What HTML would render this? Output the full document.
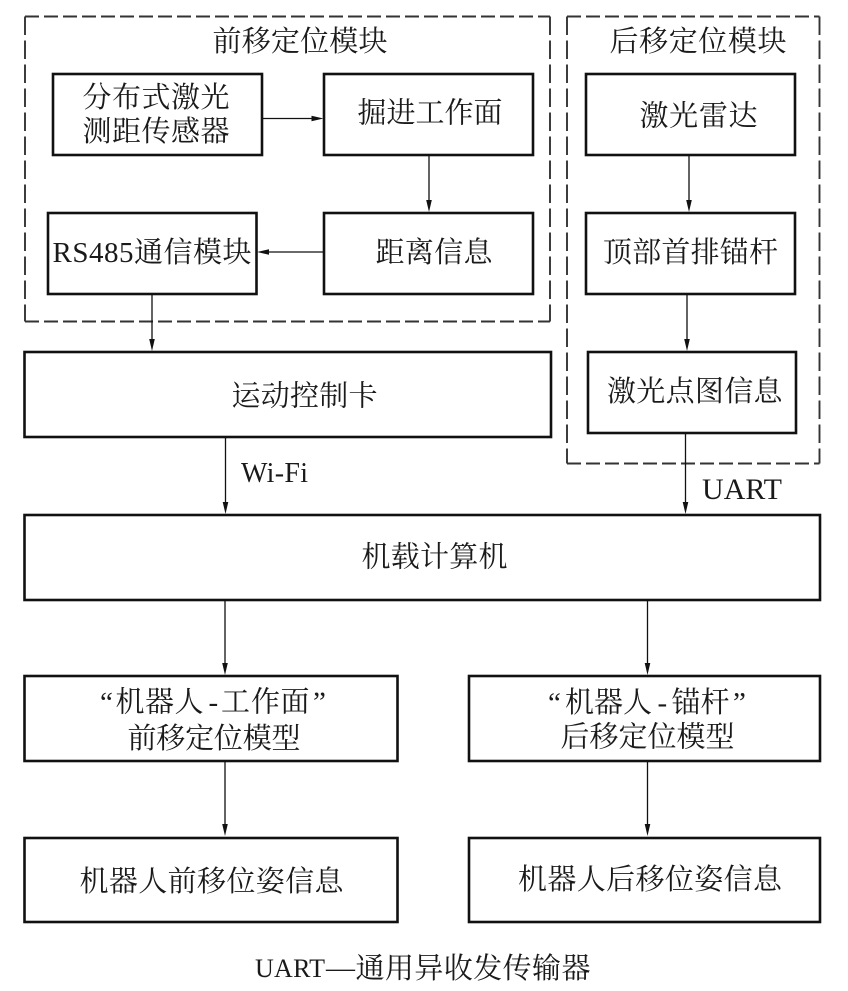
<!DOCTYPE html>
<html>
<head>
<meta charset="utf-8">
<style>
html,body{margin:0;padding:0;background:#fff;}
svg{display:block;}
text{font-family:"Liberation Serif","Noto Serif CJK SC",serif;font-size:29px;fill:#1a1a1a;text-anchor:start;}
.b{fill:none;stroke:#111;stroke-width:2.6;}
.d{fill:none;stroke:#333;stroke-width:1.9;}
.h{stroke-dasharray:14 5;}
.v{stroke-dasharray:18.500 5.500;}
.l{fill:none;stroke:#111;stroke-width:1.3;}
.a{fill:#111;stroke:none;}
</style>
</head>
<body>
<svg width="848" height="991" viewBox="0 0 848 991" xmlns="http://www.w3.org/2000/svg">
<path class="d h" d="M25 16.500H550M25 321.500H550M567 16.500H819.500M567 463.500H819.500"/>
<path class="d v" d="M25 16.500V321.500M550 16.500V321.500M567 16.500V463.500M819.500 16.500V463.500"/>

<rect class="b" x="53" y="74" width="209" height="81"/>
<rect class="b" x="324" y="74" width="209" height="81"/>
<rect class="b" x="48" y="213" width="208.500" height="81"/>
<rect class="b" x="324" y="213" width="209" height="81"/>
<rect class="b" x="586" y="74" width="209" height="81"/>
<rect class="b" x="586" y="213" width="209" height="81"/>
<rect class="b" x="588" y="352" width="208" height="81"/>
<rect class="b" x="24.500" y="352" width="526.500" height="85"/>
<rect class="b" x="24.500" y="515" width="795.500" height="85"/>
<rect class="b" x="24.500" y="676" width="373" height="85"/>
<rect class="b" x="469" y="676" width="351" height="85"/>
<rect class="b" x="24.500" y="838" width="373" height="84"/>
<rect class="b" x="469" y="838" width="351" height="84"/>

<path class="l" d="M263 118.500H314M429 155V202M324 252H267M152 294V341M225.500 437V504M689 155V202M687 294V341M685.500 433V504M225 600V665M647.500 600V665M225 761V826M647.500 761V826"/>
<path class="a" d="M323.500 118.500l-12-2.800v5.600zM429 212l-2.800-12h5.600zM257 252l12-2.800v5.600zM152 351l-2.800-12h5.600zM225.500 514l-2.800-12h5.600zM689 212l-2.800-12h5.600zM687 351l-2.800-12h5.600zM685.500 514l-2.800-12h5.600zM225 675l-2.800-12h5.600zM647.500 675l-2.800-12h5.600zM225 836l-2.800-12h5.600zM647.500 836l-2.800-12h5.600z"/>

<text x="212.500" y="51" textLength="175">前移定位模块</text>
<text x="609.500" y="51" textLength="177">后移定位模块</text>
<text x="82.500" y="107" textLength="147">分布式激光</text>
<text x="82.500" y="141" textLength="147">测距传感器</text>
<text x="357.500" y="122.500" textLength="145">掘进工作面</text>
<text x="52.500" y="262" textLength="199">RS485通信模块</text>
<text x="375.500" y="262" textLength="117">距离信息</text>
<text x="639.500" y="125.500" textLength="118">激光雷达</text>
<text x="603" y="262" textLength="175">顶部首排锚杆</text>
<text x="607" y="401" textLength="175.500">激光点图信息</text>
<text x="231.500" y="405.500" textLength="146">运动控制卡</text>
<text x="241" y="482" style="font-size:28px" textLength="67">Wi-Fi</text>
<text x="702" y="499" style="font-size:30px" textLength="80">UART</text>
<text x="361.500" y="566.500" textLength="146">机载计算机</text>
<text y="711.500" x="100 115.500 145 174.500 208.500 221 251 280.500 313">“机器人-工作面”</text>
<text x="127.500" y="748" textLength="173">前移定位模型</text>
<text y="712" x="548 565 594 623 657.500 671.500 700.500 733">“机器人-锚杆”</text>
<text x="560.500" y="746.500" textLength="174">后移定位模型</text>
<text x="79.500" y="891" textLength="264">机器人前移位姿信息</text>
<text x="518" y="889" textLength="264">机器人后移位姿信息</text>
<text x="255" y="977" style="font-size:26px" textLength="70">UART</text>
<text x="326" y="977" style="font-size:29px">—</text>
<text x="355.500" y="978" textLength="235">通用异收发传输器</text>
</svg>
</body>
</html>
